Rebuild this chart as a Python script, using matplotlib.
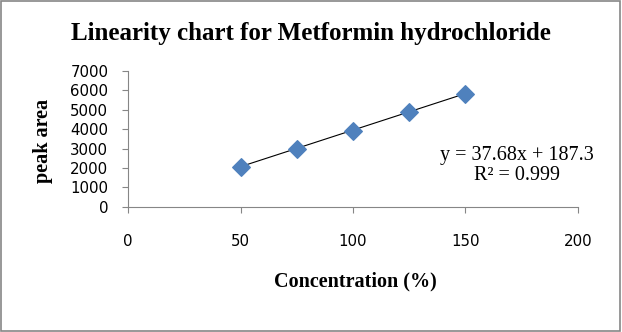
import numpy as np
import matplotlib
matplotlib.use('Agg')
import matplotlib.pyplot as plt
from matplotlib.patches import Rectangle

# data
concentration = [50, 75, 100, 125, 150]
peak_area = [2070, 3000, 3920, 4870, 5840]
slope = 37.68
intercept = 187.3
x_ticks = [0, 50, 100, 150, 200]
y_ticks = [0, 1000, 2000, 3000, 4000, 5000, 6000, 7000]

fig = plt.figure(figsize=(6.22, 3.32), dpi=100)
fig.patches.append(Rectangle((0.002, 0.003), 0.995, 0.993, transform=fig.transFigure,
                             fill=False, edgecolor='#868686', linewidth=1.2))

ax = fig.add_axes([0.206, 0.377, 0.723, 0.409])

line_x = np.array([concentration[0], concentration[-1]])
ax.plot(line_x, slope * line_x + intercept, color='black', linewidth=0.8, zorder=2)
ax.scatter(concentration, peak_area, marker='D', s=80, color='#4F81BD', zorder=3)

ax.set_xlim(0, 200)
ax.set_ylim(0, 7000)
ax.set_xticks(x_ticks)
ax.set_yticks(y_ticks)
for side in ['top', 'right']:
    ax.spines[side].set_visible(False)
for side in ['left', 'bottom']:
    ax.spines[side].set_color('#868686')
ax.tick_params(axis='both', colors='#868686', length=4.3, labelcolor='black',
               labelsize=10.8)
ax.tick_params(axis='x', pad=15.5)
ax.tick_params(axis='y', pad=10)
for lbl in ax.get_xticklabels() + ax.get_yticklabels():
    lbl.set_family('DejaVu Sans')

serif = 'Liberation Serif'
fig.text(0.5, 0.9, 'Linearity chart for Metformin hydrochloride', ha='center', va='center',
         family=serif, fontweight='bold', fontsize=18)
fig.text(0.069, 0.575, 'peak area', rotation=90, ha='center', va='center',
         family=serif, fontweight='bold', fontsize=14.5)
fig.text(0.572, 0.152, 'Concentration (%)', ha='center', va='center',
         family=serif, fontweight='bold', fontsize=14.5)
fig.text(0.831, 0.533, 'y = 37.68x + 187.3', ha='center', va='center',
         family=serif, fontsize=14.5)
fig.text(0.831, 0.47, 'R² = 0.999', ha='center', va='center',
         family=serif, fontsize=14.5)

fig.savefig('out.png', dpi=100)
